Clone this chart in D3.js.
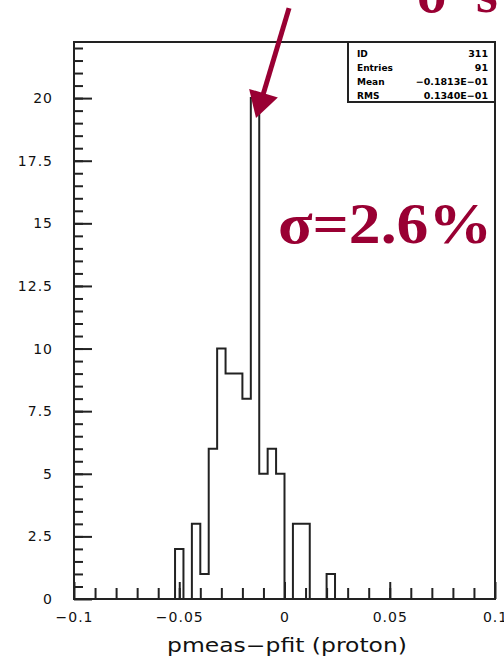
<!DOCTYPE html>
<html>
<head>
<meta charset="utf-8">
<script src="https://cdn.jsdelivr.net/npm/d3@7"></script>
<style>
  body { margin: 0; background: #fff; }
  svg { display: block; }
</style>
</head>
<body>
<svg id="chart"></svg>
<script>
// histogram of pmeas - pfit, 50 bins of 0.004 between -0.1 and 0.1
var binLow = -0.1, binHigh = 0.1;
var counts = [0,0,0,0,0,0,0,0,0,0,
              0,0,2,0,3,1,6,10,9,9,
              8,20,5,6,5,0,3,3,0,0,
              1,0,0,0,0,0,0,0,0,0,
              0,0,0,0,0,0,0,0,0,0];
var xTickValues = [-0.1, -0.05, 0, 0.05, 0.1];
var xTickLabels = ["\u22120.1", "\u22120.05", "0", "0.05", "0.1"];
var yTickValues = [0, 2.5, 5, 7.5, 10, 12.5, 15, 17.5, 20];
var yTickLabels = ["0", "2.5", "5", "7.5", "10", "12.5", "15", "17.5", "20"];
var statNames  = ["ID", "Entries", "Mean", "RMS"];
var statValues = ["311", "91", "\u22120.1813E\u221201", "0.1340E\u221201"];
var sigmaText = "\u03c3=2.6%";

var width = 504, height = 660;
var red = "#990033";
var svg = d3.select("#chart").attr("width", width).attr("height", height);

var x = d3.scaleLinear().domain([binLow, binHigh]).range([74, 495]);
var y = d3.scaleLinear().domain([0, 22.24]).range([599, 42]);
var binW = (binHigh - binLow) / counts.length;

// minor ticks
var xMinor = d3.range(-0.09, 0.0901, 0.01);
var yMinor = d3.range(0.5, 22.01, 0.5);

var xAxisMinor = d3.axisBottom(x).tickValues(xMinor).tickSizeInner(-11).tickSizeOuter(0).tickFormat("");
var xAxis = d3.axisBottom(x).tickValues(xTickValues).tickSizeInner(-17).tickSizeOuter(0)
    .tickFormat(function(d, i) { return xTickLabels[i]; });
var yAxisMinor = d3.axisLeft(y).tickValues(yMinor).tickSizeInner(-9).tickSizeOuter(0).tickFormat("");
var yAxis = d3.axisLeft(y).tickValues(yTickValues).tickSizeInner(-18).tickSizeOuter(0).tickPadding(21)
    .tickFormat(function(d, i) { return yTickLabels[i]; });

function styleAxis(g) {
  g.select(".domain").remove();
  g.selectAll("line").attr("stroke", "#222").attr("stroke-width", 2);
  g.selectAll("text").attr("fill", "#111")
    .style("font-family", "'DejaVu Sans', sans-serif").style("font-size", "14px")
    .style("letter-spacing", "1px");
}

svg.append("g").attr("transform", "translate(0,599)").call(xAxisMinor).call(styleAxis);
var gx = svg.append("g").attr("transform", "translate(0,599)").call(xAxis).call(styleAxis);
gx.selectAll("text").attr("y", 23).attr("dy", null);
svg.append("g").attr("transform", "translate(74,0)").call(yAxisMinor).call(styleAxis);
svg.append("g").attr("transform", "translate(74,0)").call(yAxis).call(styleAxis);

// histogram outline
var pts = counts.map(function(c, i) { return [binLow + i * binW, c]; });
pts.push([binHigh, counts[counts.length - 1]]);
var line = d3.line()
    .x(function(d) { return x(d[0]); })
    .y(function(d) { return y(d[1]); })
    .curve(d3.curveStepAfter);
svg.append("path").datum(pts)
    .attr("d", line)
    .attr("fill", "none")
    .attr("stroke", "#222")
    .attr("stroke-width", 2);

// frame
svg.append("rect")
    .attr("x", x(binLow)).attr("y", y.range()[1])
    .attr("width", x(binHigh) - x(binLow)).attr("height", y.range()[0] - y.range()[1])
    .attr("fill", "none").attr("stroke", "#222").attr("stroke-width", 2);

// stats box
var sb = svg.append("g");
sb.append("rect").attr("x", 348).attr("y", 42).attr("width", 147).attr("height", 60)
    .attr("fill", "#fff").attr("stroke", "#222").attr("stroke-width", 2);
sb.selectAll("text.name").data(statNames).join("text")
    .attr("class", "name")
    .attr("x", 357).attr("y", function(d, i) { return 57 + i * 14; })
    .style("font-family", "'DejaVu Sans', sans-serif").style("font-size", "9px")
    .style("font-weight", "bold")
    .text(function(d) { return d; });
sb.selectAll("text.val").data(statValues).join("text")
    .attr("class", "val")
    .attr("x", 488).attr("y", function(d, i) { return 57 + i * 14; })
    .attr("text-anchor", "end")
    .style("font-family", "'DejaVu Sans', sans-serif").style("font-size", "9.5px")
    .style("font-weight", "bold")
    .text(function(d) { return d; });

// x axis title
svg.append("text")
    .attr("x", 287).attr("y", 652)
    .attr("text-anchor", "middle")
    .attr("textLength", 240).attr("lengthAdjust", "spacingAndGlyphs")
    .style("font-family", "'DejaVu Sans', sans-serif").style("font-size", "19px")
    .attr("fill", "#111")
    .text("pmeas\u2212pfit (proton)");

// arrow pointing at the peak bin
var peakIdx = counts.indexOf(d3.max(counts));
var tipX = x(binLow + (peakIdx + 0.5) * binW) + 1;
var tipY = y(counts[peakIdx]) + 20;
var dir = [-33, 110];
var len = Math.hypot(dir[0], dir[1]);
var u = [dir[0] / len, dir[1] / len];
var baseC = [tipX - u[0] * 26, tipY - u[1] * 26];
var perp = [-u[1], u[0]];
svg.append("line")
    .attr("x1", tipX - dir[0]).attr("y1", tipY - dir[1])
    .attr("x2", baseC[0] + u[0] * 2).attr("y2", baseC[1] + u[1] * 2)
    .attr("stroke", red).attr("stroke-width", 5);
svg.append("polygon")
    .attr("points", [
      [tipX, tipY],
      [baseC[0] + perp[0] * 15, baseC[1] + perp[1] * 15],
      [baseC[0] - perp[0] * 15, baseC[1] - perp[1] * 15]
    ].map(function(p) { return p.join(","); }).join(" "))
    .attr("fill", red);

// annotations
var serif = "'Liberation Serif', 'Times New Roman', serif";
svg.append("text")
    .attr("x", 278).attr("y", 243)
    .attr("fill", red)
    .attr("textLength", 214).attr("lengthAdjust", "spacingAndGlyphs")
    .style("font-family", serif).style("font-size", "56px").style("font-weight", "bold")
    .text(sigmaText);
var cut = svg.append("text")
    .attr("y", 12)
    .attr("fill", red)
    .style("font-family", serif).style("font-size", "56px").style("font-weight", "bold");
cut.append("tspan").attr("x", 417).text("\u03c3");
cut.append("tspan").attr("x", 476).text("s");
</script>
</body>
</html>
